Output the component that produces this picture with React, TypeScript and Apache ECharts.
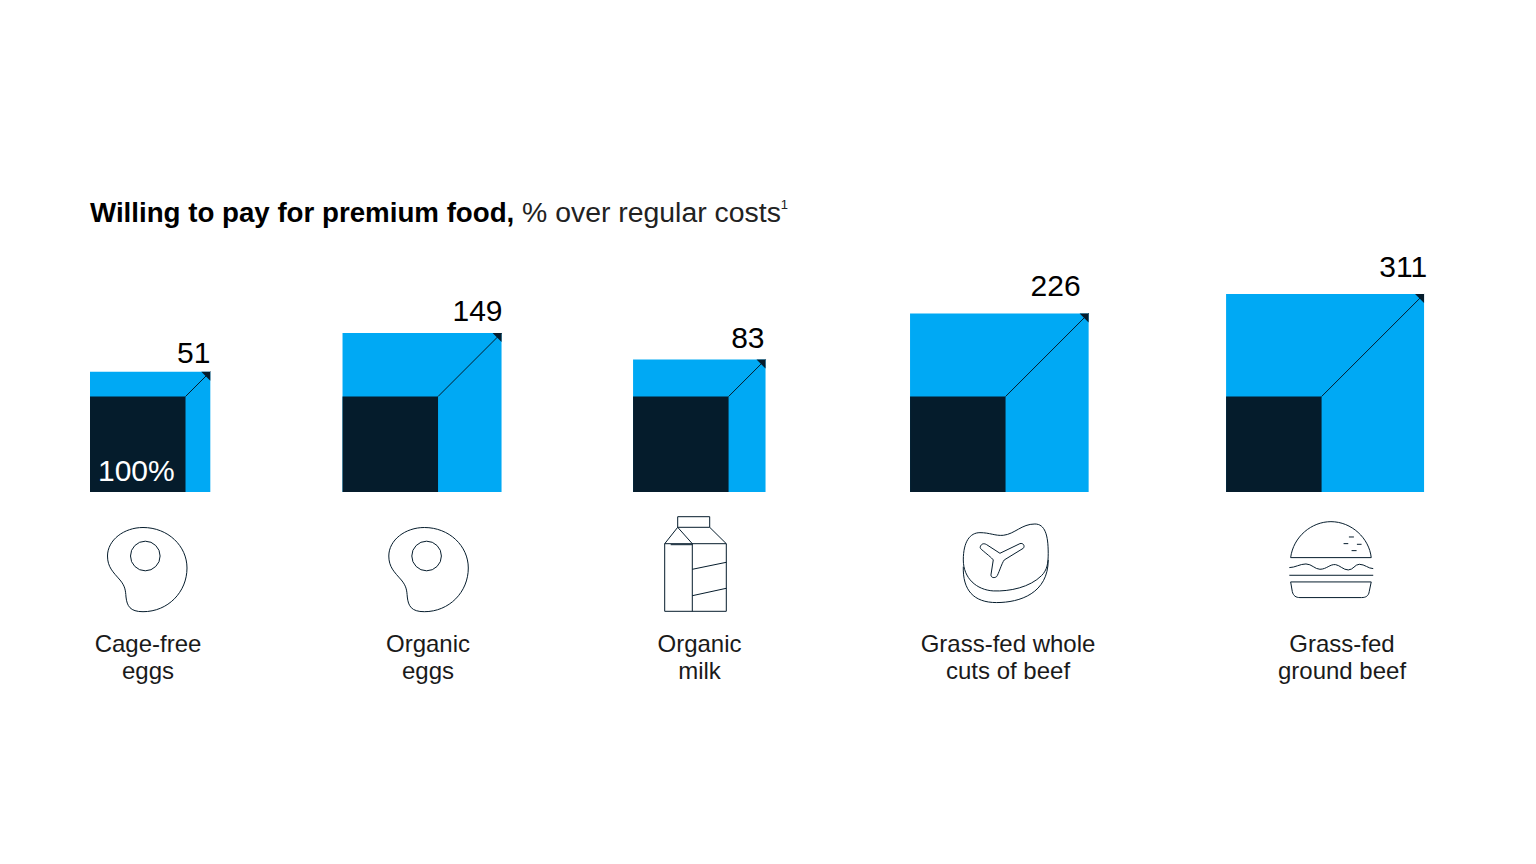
import React, { useEffect, useRef } from "react";
import * as echarts from "echarts";

// ---- data ----
const categories = ["Cage-free\neggs", "Organic\neggs", "Organic\nmilk", "Grass-fed whole\ncuts of beef", "Grass-fed\nground beef"];
const premiumValues = [51, 149, 83, 226, 311];
// side of each outer square, where the regular-cost square is 100
const outerSides = [126, 166.5, 138.7, 187, 207.3];
const baseSide = [100];
const baseLabel = "100%";

// ---- layout ----
const FONT = "'Liberation Sans', Arial, sans-serif";
const DARK = "#051C2C";
const BLUE = "#00A9F4";
const groupLefts = [0, 264.4, 568.6, 858.6, 1189.5];
const valueDx = [0, 1, -1, -8, 3];
const valueDy = [-4.5, -7.5, -7.5, -13, -12.5];
const labelCenters = [148, 428, 699.5, 1008, 1342];

const shapes: Record<string, string> = {
  mkEgg:
    "M143 527.5C168 527.5 187 546 187 568C187 592 168 611.7 143 611.7C130 611.7 127 606 126 597C125.5 590 125 586 120 580C113 572 107.5 567 107.5 556C107.5 540 124 527.5 143 527.5Z" +
    "M160.1 556A14.8 14.8 0 1 1 130.5 556A14.8 14.8 0 1 1 160.1 556Z",
  mkCarton:
    "M677.7 516.7H709.7V527.3H677.7ZM664.7 543.7H726.3V611.3H664.7ZM692.3 543.7V611.3M677.7 527.3L664.7 543.7M677.7 527.3L692.3 543.7M709.7 527.3L726.3 543.7M670.7 544.7H692.3M692.3 569.3L726.3 562.3M692.3 595.7L726.3 588.3",
  mkSteak:
    "M70 150C70 95 90 68 120 68C150 68 165 78 190 76C225 72 245 42 285 42C315 42 325 75 325 130C325 160 322 180 305 197C270 232 210 245 160 243C110 240 70 205 70 150Z" +
    "M70 170C68 240 100 278 170 278C240 278 325 250 325 150" +
    "M122 108C126 100 133 100 140 104L180 130L240 101C250 98 256 108 250 115L193 150C185 160 175 195 170 200C164 205 153 204 153 195L160 150C155 143 140 132 124 118C120 114 120 112 122 108Z",
  mkBurger:
    "M62 143C70 80 125 35 183 35C245 35 298 85 304 143ZM237 81H252M221 101H235M261 103H275M245 122H260" +
    "M58 173C75 173 90 162 108 162C125 162 135 178 150 178C170 178 180 162 197 164C210 166 220 180 235 180C250 180 255 163 268 163C285 163 295 176 310 176" +
    "M58 196H310M62 216H304L298 245C296 258 288 263 275 263H90C78 263 70 258 67 245Z",
};
Object.keys(shapes).forEach((k) =>
  echarts.graphic.registerShape(k, (echarts.graphic as any).extendPath(shapes[k], {}))
);

const iconStyle = { fill: "none", stroke: DARK };

export default function App() {
  const ref = useRef<HTMLDivElement>(null);
  useEffect(() => {
    const chart = echarts.init(ref.current!, null, { renderer: "svg" });
    chart.setOption({
      animation: false,
      backgroundColor: "#fff",
      title: {
        left: 90,
        top: 198,
        padding: 0,
        text: "{b|Willing to pay for premium food,} {r|% over regular costs}{s|1}",
        textStyle: {
          fontFamily: FONT,
          fontSize: 28,
          fontWeight: 400,
          rich: {
            b: { fontFamily: FONT, fontWeight: 700, fontSize: 27.7, color: "#000" },
            r: { fontFamily: FONT, fontWeight: 400, fontSize: 28.4, color: "#222" },
            s: { fontFamily: FONT, fontWeight: 400, fontSize: 13, color: "#222", verticalAlign: "top" },
          },
        },
      },
      grid: { left: 90, right: 0, top: 0, height: 492 },
      xAxis: { type: "value", min: 0, max: 1514, show: false },
      yAxis: { type: "value", min: 0, max: 515.2, show: false },
      graphic: [
        { type: "mkEgg", style: { ...iconStyle, lineWidth: 1 } },
        { type: "mkEgg", x: 281.3, style: { ...iconStyle, lineWidth: 1 } },
        { type: "mkCarton", style: { ...iconStyle, lineWidth: 1 } },
        { type: "mkSteak", x: 940, y: 510, scaleX: 1 / 3, scaleY: 1 / 3, style: { ...iconStyle, lineWidth: 3 } },
        { type: "mkBurger", x: 1270, y: 510, scaleX: 1 / 3, scaleY: 1 / 3, style: { ...iconStyle, lineWidth: 3 } },
      ],
      series: [
        {
          type: "custom",
          coordinateSystem: "cartesian2d",
          encode: { x: 0, y: 1 },
          data: categories.map((c, i) => [groupLefts[i], outerSides[i], baseSide[0], premiumValues[i]]),
          renderItem: (params: any, api: any) => {
            const i = params.dataIndex;
            const left = api.value(0);
            const side = api.value(1);
            const base = api.value(2);
            const [x0, y0] = api.coord([left, 0]);
            const [x1, y1] = api.coord([left + side, side]);
            const [xb, yb] = api.coord([left + base, base]);
            const t = 9;
            const children: any[] = [
              { type: "rect", shape: { x: x0, y: y1, width: x1 - x0, height: y0 - y1 }, style: { fill: BLUE } },
              { type: "rect", shape: { x: x0, y: yb, width: xb - x0, height: y0 - yb }, style: { fill: DARK } },
              { type: "line", shape: { x1: xb, y1: yb, x2: x1, y2: y1 }, style: { stroke: DARK, lineWidth: 1 } },
              { type: "polygon", shape: { points: [[x1 - t, y1], [x1, y1], [x1, y1 + t]] }, style: { fill: DARK } },
              {
                type: "text",
                x: x1 + valueDx[i],
                y: y1 + valueDy[i],
                style: { text: String(api.value(3)), fontFamily: FONT, fontSize: 30, fill: "#000", align: "right", verticalAlign: "bottom" },
              },
              {
                type: "text",
                x: labelCenters[i],
                y: 630,
                style: { text: categories[i], fontFamily: FONT, fontSize: 24, lineHeight: 27, fill: "#1a1a1a", align: "center", verticalAlign: "top" },
              },
            ];
            if (i === 0) {
              children.push({
                type: "text",
                x: x0 + 8,
                y: y0 - 7,
                style: { text: baseLabel, fontFamily: FONT, fontSize: 30, fill: "#fff", align: "left", verticalAlign: "bottom" },
              });
            }
            return { type: "group", children };
          },
        },
      ],
    });
    return () => chart.dispose();
  }, []);
  return <div ref={ref} style={{ position: "fixed", left: 0, top: 0, width: 1536, height: 864 }} />;
}
